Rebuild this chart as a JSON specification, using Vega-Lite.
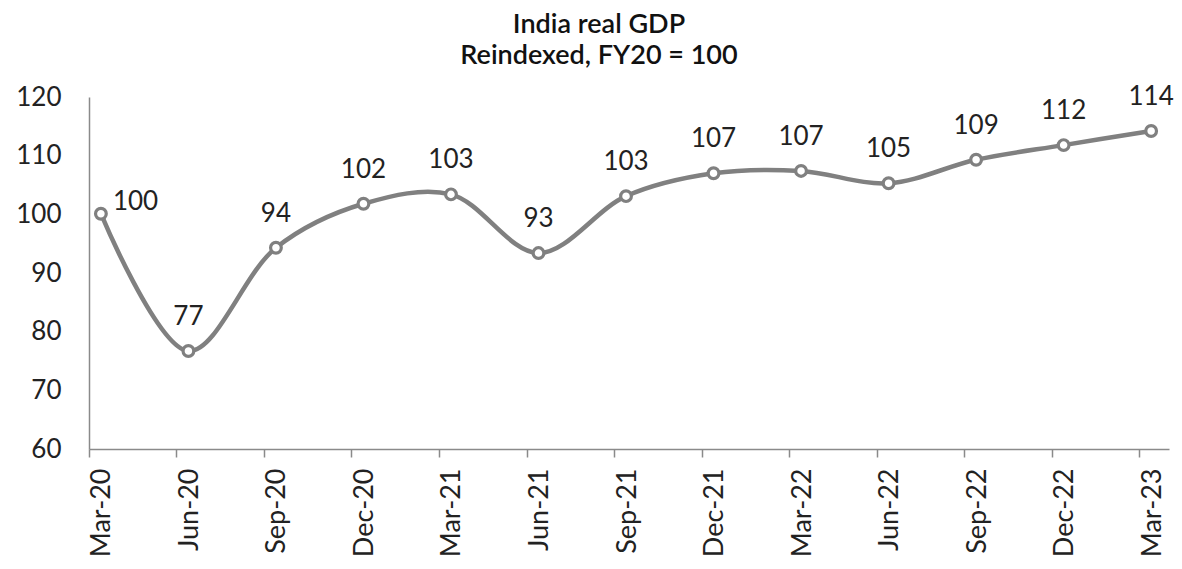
{
  "$schema": "https://vega.github.io/schema/vega-lite/v6.json",
  "width": 1080,
  "height": 352,
  "autosize": {"type": "none"},
  "padding": {"left": 89, "top": 97, "right": 13, "bottom": 120},
  "background": "white",
  "title": {
    "text": ["India real GDP", "Reindexed, FY20 = 100"],
    "font": "Lato",
    "fontSize": 27,
    "fontWeight": 600,
    "color": "#111111",
    "lineHeight": 31,
    "anchor": "middle",
    "dx": -30,
    "offset": 14
  },
  "config": {
    "view": {"stroke": null},
    "axis": {
      "labelFont": "Lato",
      "labelFontSize": 26,
      "labelColor": "#222222",
      "grid": false,
      "title": null,
      "domainColor": "#8a8a8a",
      "domainWidth": 1.5
    }
  },
  "data": {
    "values": [
      {"q": "Mar-20", "v": 100.1},
      {"q": "Jun-20", "v": 76.7},
      {"q": "Sep-20", "v": 94.3},
      {"q": "Dec-20", "v": 101.8},
      {"q": "Mar-21", "v": 103.4},
      {"q": "Jun-21", "v": 93.4},
      {"q": "Sep-21", "v": 103.1},
      {"q": "Dec-21", "v": 107.0},
      {"q": "Mar-22", "v": 107.4},
      {"q": "Jun-22", "v": 105.3},
      {"q": "Sep-22", "v": 109.3},
      {"q": "Dec-22", "v": 111.8},
      {"q": "Mar-23", "v": 114.2}
    ]
  },
  "encoding": {
    "x": {
      "field": "q",
      "type": "ordinal",
      "sort": null,
      "scale": {
        "type": "point",
        "domain": ["Mar-20", "Jun-20", "Sep-20", "Dec-20", "Mar-21", "Jun-21", "Sep-21", "Dec-21", "Mar-22", "Jun-22", "Sep-22", "Dec-22", "Mar-23"],
        "padding": 0.17,
        "align": 0.4
      },
      "axis": {
        "labelAngle": -90,
        "labelFontSize": 27,
        "tickSize": 8,
        "tickColor": "#8a8a8a",
        "tickWidth": 1.5,
        "tickOffset": -12,
        "labelOffset": 13,
        "labelPadding": 11
      }
    },
    "y": {
      "field": "v",
      "type": "quantitative",
      "scale": {"domain": [60, 120], "nice": false, "zero": false},
      "axis": {
        "values": [60, 70, 80, 90, 100, 110, 120],
        "ticks": false,
        "tickSize": 0,
        "labelPadding": 28
      }
    }
  },
  "layer": [
    {
      "mark": {"type": "line", "interpolate": "catmull-rom", "color": "#808080", "strokeWidth": 4.5}
    },
    {
      "mark": {"type": "point", "shape": "circle", "filled": true, "fill": "white", "stroke": "#808080", "strokeWidth": 3.2, "size": 115, "opacity": 1}
    },
    {
      "transform": [{"filter": "datum.q !== 'Mar-20'"}],
      "mark": {"type": "text", "font": "Lato", "fontSize": 26, "color": "#222222", "dy": -26, "baseline": "alphabetic"},
      "encoding": {"text": {"field": "v", "type": "quantitative", "format": ".0f"}}
    },
    {
      "transform": [{"filter": "datum.q === 'Mar-20'"}],
      "mark": {"type": "text", "font": "Lato", "fontSize": 26, "color": "#222222", "align": "left", "dx": 12, "dy": -4, "baseline": "alphabetic"},
      "encoding": {"text": {"field": "v", "type": "quantitative", "format": ".0f"}}
    }
  ]
}
